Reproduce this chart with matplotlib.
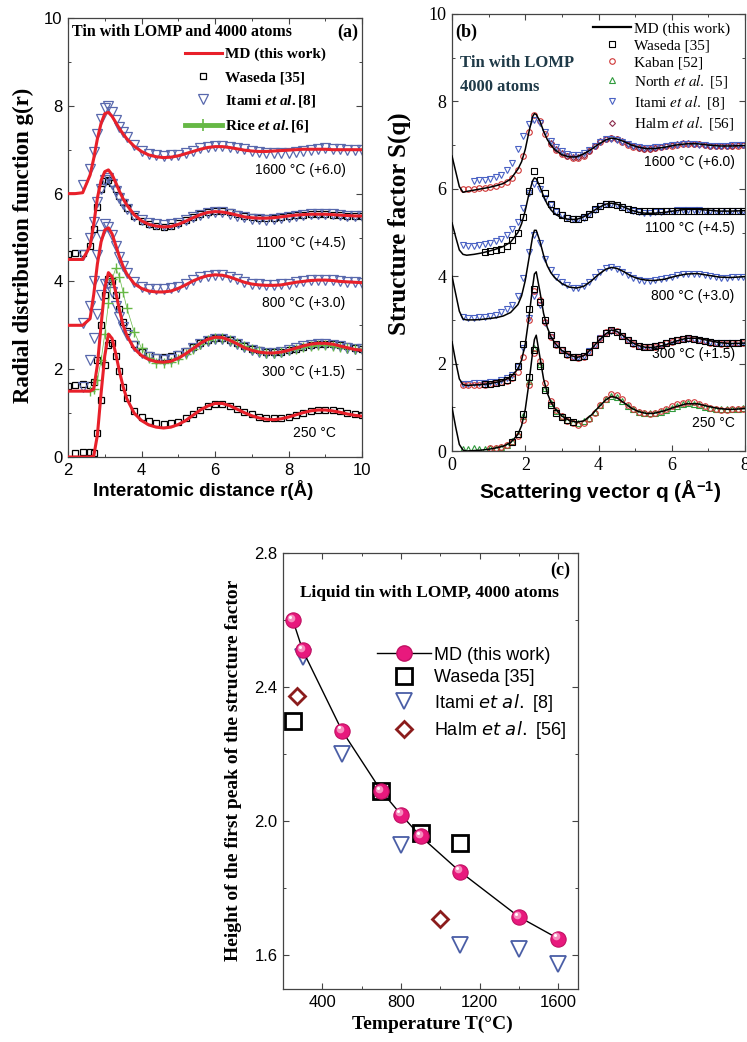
import numpy as np
import matplotlib
matplotlib.use("Agg")
import matplotlib.pyplot as plt
from matplotlib.lines import Line2D
from matplotlib.font_manager import FontProperties
from matplotlib.transforms import offset_copy

nan = np.nan
SERIF = 'Liberation Serif'
SANS = 'Liberation Sans'

plt.rcParams['mathtext.fontset'] = 'custom'
plt.rcParams['mathtext.rm'] = 'Liberation Serif:bold'
plt.rcParams['mathtext.it'] = 'Liberation Serif:italic:bold'
plt.rcParams['mathtext.bf'] = 'Liberation Sans:bold'

# ---------------- panel (a): g(r) ----------------
R = [2.0, 2.2, 2.4, 2.6,
     2.7, 2.8, 2.9, 3.0, 3.1, 3.2, 3.3, 3.4, 3.5, 3.6,
     3.8, 4.0, 4.2, 4.4, 4.6, 4.8, 5.0, 5.2, 5.4, 5.6,
     5.8, 6.0, 6.2, 6.4, 6.6, 6.8, 7.0, 7.2, 7.4, 7.6,
     7.8, 8.0, 8.2, 8.4, 8.6, 8.8, 9.0, 9.2, 9.4, 9.6,
     9.8, 10.0]
TEMP_LABELS = ['250 °C', '300 °C (+1.5)', '800 °C (+3.0)', '1100 °C (+4.5)', '1600 °C (+6.0)']
OFFSETS = [0.0, 1.5, 3.0, 4.5, 6.0]

MD_A_250 = [0, 0, 0, 0,
            0.02, 0.5, 1.45, 2.3, 2.8, 2.7, 2.35, 1.95, 1.6, 1.33,
            1.0, 0.83, 0.73, 0.68, 0.66, 0.68, 0.74, 0.83, 0.95, 1.07,
            1.16, 1.22, 1.22, 1.17, 1.09, 1.01, 0.94, 0.89, 0.86, 0.85,
            0.87, 0.91, 0.96, 1.01, 1.05, 1.07, 1.07, 1.05, 1.02, 0.98,
            0.95, 0.93]
MD_A_300 = [0, 0, 0, 0,
            0.05, 0.6, 1.5, 2.35, 2.7, 2.6, 2.25, 1.85, 1.5, 1.27,
            0.97, 0.81, 0.72, 0.67, 0.66, 0.68, 0.75, 0.85, 0.97, 1.09,
            1.18, 1.23, 1.22, 1.16, 1.08, 0.99, 0.93, 0.89, 0.87, 0.87,
            0.89, 0.93, 0.98, 1.03, 1.07, 1.09, 1.09, 1.07, 1.03, 0.99,
            0.95, 0.93]
MD_A_800 = [0, 0, 0, 0.15,
            0.7, 1.4, 1.9, 2.17, 2.22, 2.08, 1.82, 1.56, 1.34, 1.17,
            0.95, 0.84, 0.78, 0.76, 0.76, 0.78, 0.84, 0.92, 1.01, 1.08,
            1.13, 1.15, 1.14, 1.1, 1.04, 0.98, 0.94, 0.92, 0.91, 0.91,
            0.92, 0.95, 0.98, 1.0, 1.02, 1.03, 1.03, 1.02, 1.0, 0.99,
            0.98, 0.97]
MD_A_1100 = [0, 0, 0, 0.3,
             0.8, 1.4, 1.8, 2.0, 2.04, 1.93, 1.75, 1.55, 1.38, 1.24,
             1.02, 0.88, 0.8, 0.76, 0.74, 0.75, 0.8, 0.87, 0.95, 1.02,
             1.07, 1.09, 1.08, 1.05, 1.01, 0.97, 0.95, 0.94, 0.94, 0.95,
             0.97, 0.99, 1.01, 1.02, 1.03, 1.03, 1.03, 1.02, 1.01, 1.0,
             0.99, 0.99]
MD_A_1600 = [0, 0, 0.02, 0.42,
             0.8, 1.25, 1.6, 1.82, 1.85, 1.76, 1.62, 1.48, 1.36, 1.25,
             1.08, 0.96, 0.88, 0.84, 0.82, 0.83, 0.86, 0.91, 0.96, 1.01,
             1.05, 1.07, 1.07, 1.05, 1.02, 0.99, 0.97, 0.96, 0.96, 0.97,
             0.98, 0.99, 1.0, 1.01, 1.01, 1.01, 1.01, 1.0, 1.0, 1.0,
             1.0, 1.0]

WAS_A_250 = [nan, 0.08, 0.12, 0.12,
             0.1, 0.55, 1.3, 2.1, 2.55, 2.6, 2.3, 1.95, 1.6, 1.35,
             1.05, 0.9, 0.82, 0.78, 0.76, 0.77, 0.8, 0.88, 0.98, 1.08,
             1.16, 1.2, 1.2, 1.16, 1.1, 1.03, 0.97, 0.92, 0.89, 0.88,
             0.89, 0.92, 0.96, 1.0, 1.04, 1.06, 1.07, 1.06, 1.04, 1.01,
             0.98, 0.96]
WAS_A_300 = [0.12, 0.15, 0.17, 0.15,
             0.2, 0.7, 1.5, 2.2, 2.55, 2.5, 2.2, 1.88, 1.58, 1.36,
             1.07, 0.9, 0.82, 0.78, 0.77, 0.79, 0.84, 0.92, 1.01, 1.1,
             1.16, 1.2, 1.2, 1.16, 1.1, 1.03, 0.97, 0.93, 0.9, 0.89,
             0.9, 0.93, 0.97, 1.01, 1.05, 1.07, 1.08, 1.07, 1.05, 1.02,
             0.99, 0.97]
ITA_A_300 = [nan, nan, 0.1, 0.7,
             1.2, 1.75, 2.2, 2.45, 2.45, 2.25, 1.95, 1.68, 1.45, 1.27,
             1.02, 0.86, 0.77, 0.73, 0.72, 0.74, 0.8, 0.88, 0.98, 1.07,
             1.14, 1.18, 1.18, 1.14, 1.07, 1.0, 0.94, 0.9, 0.88, 0.88,
             0.9, 0.94, 0.98, 1.02, 1.05, 1.07, 1.07, 1.05, 1.02, 0.99,
             0.97, 0.95]
RICE_A_300 = [nan, nan, nan, 0.0,
              0.05, 0.25, 0.7, 1.3, 2.0, 2.55, 2.8, 2.6, 2.25, 1.9,
              1.35, 0.98, 0.75, 0.65, 0.64, 0.67, 0.74, 0.84, 0.96, 1.08,
              1.16, 1.2, 1.21, 1.17, 1.1, 1.02, 0.95, 0.91, 0.88, 0.88,
              0.9, 0.93, 0.97, 1.0, 1.03, 1.04, 1.04, 1.03, 1.01, 0.99,
              0.97, 0.96]
ITA_A_800 = [nan, nan, 0.05, 0.45,
             1.0, 1.6, 2.05, 2.3, 2.25, 2.05, 1.8, 1.56, 1.36, 1.2,
             0.99, 0.88, 0.83, 0.82, 0.82, 0.84, 0.88, 0.95, 1.03, 1.09,
             1.13, 1.15, 1.14, 1.1, 1.05, 0.99, 0.95, 0.93, 0.92, 0.92,
             0.93, 0.95, 0.98, 1.01, 1.03, 1.04, 1.04, 1.03, 1.01, 0.99,
             0.98, 0.97]
WAS_A_1100 = [0.12, 0.15, 0.15, 0.3,
              0.7, 1.2, 1.6, 1.78, 1.82, 1.75, 1.6, 1.45, 1.3, 1.18,
              1.0, 0.88, 0.8, 0.76, 0.75, 0.77, 0.82, 0.89, 0.97, 1.04,
              1.09, 1.11, 1.1, 1.07, 1.03, 0.99, 0.96, 0.94, 0.94, 0.95,
              0.97, 0.99, 1.01, 1.02, 1.03, 1.03, 1.03, 1.02, 1.01, 1.0,
              1.0, 1.0]
ITA_A_1100 = [nan, nan, 0.1, 0.5,
              0.85, 1.3, 1.6, 1.8, 1.85, 1.72, 1.55, 1.4, 1.27, 1.16,
              1.0, 0.9, 0.83, 0.8, 0.79, 0.8, 0.84, 0.9, 0.96, 1.02,
              1.06, 1.08, 1.07, 1.04, 1.0, 0.96, 0.93, 0.92, 0.91, 0.92,
              0.94, 0.96, 0.99, 1.01, 1.03, 1.04, 1.04, 1.03, 1.02, 1.0,
              0.99, 0.98]
ITA_A_1600 = [nan, nan, 0.2, 0.55,
              0.95, 1.35, 1.7, 1.95, 2.0, 1.85, 1.68, 1.52, 1.4, 1.28,
              1.1, 0.98, 0.9, 0.87, 0.86, 0.87, 0.89, 0.93, 0.98, 1.03,
              1.06, 1.08, 1.08, 1.06, 1.04, 1.01, 0.98, 0.95, 0.93, 0.92,
              0.92, 0.93, 0.95, 0.98, 1.0, 1.02, 1.03, 1.02, 1.01, 1.0,
              0.99, 0.99]

# ---------------- panel (b): S(q) ----------------
Q = [0, 0.1, 0.2, 0.3, 0.4, 0.6, 0.8, 1.0, 1.2, 1.4, 1.6, 1.8,
     1.9, 2.0, 2.1, 2.2, 2.25, 2.3, 2.4, 2.5, 2.6, 2.7, 2.8,
     3.0, 3.2, 3.4, 3.6, 3.8, 4.0, 4.2, 4.35, 4.5, 4.7, 4.9, 5.1, 5.3, 5.5,
     5.8, 6.1, 6.4, 6.7, 7.0, 7.3, 7.6, 8.0]
MD_B_250 = [1.0, 0.55, 0.15, 0.02, 0.0, 0.01, 0.02, 0.04, 0.07, 0.11, 0.19, 0.38,
            0.58, 0.95, 1.55, 2.25, 2.55, 2.65, 2.15, 1.65, 1.33, 1.12, 0.98,
            0.8, 0.7, 0.66, 0.69, 0.82, 1.0, 1.17, 1.25, 1.22, 1.1, 0.98, 0.9, 0.86, 0.86,
            0.92, 1.01, 1.08, 1.08, 1.02, 0.97, 0.95, 0.97]
MD_B_300 = [1.0, 0.55, 0.15, 0.02, 0.0, 0.01, 0.02, 0.04, 0.07, 0.11, 0.19, 0.38,
            0.58, 0.95, 1.55, 2.25, 2.55, 2.6, 2.15, 1.65, 1.33, 1.12, 0.98,
            0.8, 0.7, 0.64, 0.68, 0.83, 1.02, 1.18, 1.27, 1.24, 1.12, 0.99, 0.91, 0.87, 0.87,
            0.92, 1.01, 1.08, 1.08, 1.03, 0.98, 0.96, 0.97]
MD_B_800 = [1.0, 0.6, 0.2, 0.02, 0.0, 0.0, 0.01, 0.03, 0.05, 0.09, 0.17, 0.35,
            0.55, 0.9, 1.4, 1.9, 2.05, 2.05, 1.8, 1.48, 1.24, 1.08, 0.97,
            0.83, 0.75, 0.73, 0.77, 0.89, 1.04, 1.16, 1.2, 1.18, 1.1, 1.0, 0.94, 0.91, 0.9,
            0.93, 1.0, 1.05, 1.06, 1.02, 0.98, 0.97, 0.99]
MD_B_1100 = [0.72, 0.4, 0.1, 0.0, -0.02, 0.0, 0.03, 0.07, 0.12, 0.18, 0.28, 0.5,
             0.7, 1.0, 1.38, 1.68, 1.75, 1.73, 1.55, 1.33, 1.15, 1.02, 0.93,
             0.83, 0.8, 0.8, 0.86, 0.96, 1.07, 1.15, 1.17, 1.15, 1.08, 1.01, 0.96, 0.94, 0.94,
             0.96, 1.0, 1.03, 1.03, 1.01, 0.99, 0.99, 1.0]
MD_B_1600 = [0.75, 0.4, 0.05, -0.08, -0.06, -0.03, 0.0, 0.03, 0.07, 0.12, 0.22, 0.45,
             0.62, 0.9, 1.3, 1.65, 1.72, 1.7, 1.55, 1.32, 1.13, 1.0, 0.9,
             0.78, 0.73, 0.73, 0.8, 0.9, 1.02, 1.12, 1.16, 1.14, 1.08, 1.0, 0.95, 0.92, 0.92,
             0.95, 1.0, 1.03, 1.03, 1.0, 0.98, 0.98, 0.99]

QX = [0.3, 0.45, 0.6, 0.75, 0.9, 1.05, 1.2, 1.35, 1.5, 1.65,
      1.8, 1.95, 2.1, 2.25, 2.4, 2.55, 2.7, 2.85, 3.0, 3.15,
      3.3, 3.45, 3.6, 3.75, 3.9, 4.05, 4.2, 4.35, 4.5, 4.65,
      4.8, 4.95, 5.1, 5.25, 5.4, 5.55, 5.7, 5.85, 6.0, 6.15,
      6.3, 6.45, 6.6, 6.75, 6.9, 7.05, 7.2, 7.35, 7.5, 7.65,
      7.8, 7.95]
NORTH_B_250 = [0.05, 0.05, 0.06, 0.05, 0.05, 0.06, 0.08, 0.1, 0.14, 0.22,
               0.38, 0.8, 1.6, 2.35, 2.0, 1.45, 1.1, 0.92, 0.8, 0.72,
               0.67, 0.65, 0.68, 0.76, 0.9, 1.05, 1.2, 1.27, 1.24, 1.15,
               1.04, 0.95, 0.9, 0.87, 0.86, 0.87, 0.9, 0.94, 0.99, 1.04,
               1.07, 1.09, 1.08, 1.05, 1.01, 0.98, 0.96, 0.95, 0.95, 0.96,
               0.97, 0.98]
KAB_B_250 = [nan, nan, nan, nan, nan, 0.06, 0.08, 0.1, 0.13, 0.2,
             0.35, 0.7, 1.5, 2.25, 2.05, 1.55, 1.15, 0.93, 0.79, 0.69,
             0.63, 0.6, 0.63, 0.73, 0.88, 1.05, 1.2, 1.3, 1.28, 1.18,
             1.06, 0.96, 0.9, 0.86, 0.85, 0.87, 0.91, 0.96, 1.02, 1.07,
             1.1, 1.12, 1.11, 1.07, 1.02, 0.98, 0.95, 0.94, 0.94, 0.95,
             0.96, 0.97]
WAS_B_250 = ([nan] * 9 + [0.2,
             0.4, 0.85, 1.7, 2.3, 1.95, 1.4, 1.05, 0.88, 0.77, 0.7,
             0.66] + [nan] * 31)
KAB_B_300 = [0.0, 0.0, 0.0, 0.01, 0.02, 0.03, 0.05, 0.07, 0.1, 0.16,
             0.3, 0.65, 1.5, 2.15, 1.95, 1.45, 1.12, 0.93, 0.8, 0.7,
             0.64, 0.62, 0.66, 0.76, 0.92, 1.08, 1.22, 1.28, 1.24, 1.14,
             1.03, 0.95, 0.9, 0.88, 0.88, 0.89, 0.92, 0.96, 1.0, 1.04,
             1.07, 1.08, 1.07, 1.04, 1.01, 0.98, 0.96, 0.95, 0.95, 0.96,
             0.97, 0.98]
WAS_B_300 = [nan, nan, nan, nan, 0.03, 0.04, 0.06, 0.08, 0.12, 0.2,
             0.45, 0.95, 1.75, 2.2, 1.9, 1.5, 1.15, 0.95, 0.82, 0.72,
             0.66, 0.64, 0.67, 0.77, 0.92, 1.07, 1.2, 1.26, 1.23, 1.14,
             1.04, 0.96, 0.91, 0.89, 0.89, 0.9, 0.93, 0.97, 1.01, 1.05,
             1.07, 1.08, 1.07, 1.04, 1.01, 0.99, 0.97, 0.96, 0.96, 0.97,
             0.98, 0.99]
ITA_B_300 = [0.04, 0.04, 0.05, 0.05, 0.06, 0.07, 0.09, 0.12, 0.16, 0.24,
             0.42, 0.85, 1.55, 2.05, 1.85, 1.42, 1.1, 0.92, 0.8, 0.71,
             0.66, 0.64, 0.68, 0.78, 0.93, 1.08, 1.2, 1.25, 1.22, 1.13,
             1.03, 0.96, 0.91, 0.89, 0.89, 0.9, 0.93, 0.97, 1.01, 1.04,
             1.06, 1.07, 1.06, 1.04, 1.01, 0.99, 0.97, 0.96, 0.96, 0.97,
             0.98, 0.99]
ITA_B_800 = [0.06, 0.05, 0.05, 0.06, 0.07, 0.09, 0.12, 0.17, 0.25, 0.35,
             0.55, 0.95, 1.55, 1.95, 1.75, 1.4, 1.15, 0.98, 0.87, 0.79,
             0.74, 0.73, 0.77, 0.86, 0.99, 1.1, 1.18, 1.2, 1.17, 1.1,
             1.02, 0.96, 0.92, 0.9, 0.9, 0.91, 0.93, 0.96, 0.99, 1.02,
             1.04, 1.06, 1.06, 1.05, 1.03, 1.0, 0.98, 0.97, 0.97, 0.98,
             0.99, 0.99]
ITA_B_1100 = [0.22, 0.2, 0.2, 0.21, 0.23, 0.26, 0.3, 0.36, 0.45, 0.57,
              0.75, 1.05, 1.4, 1.6, 1.5, 1.3, 1.12, 0.98, 0.89, 0.83,
              0.8, 0.8, 0.84, 0.92, 1.02, 1.1, 1.15, 1.16, 1.14, 1.09,
              1.03, 0.99, 0.96, 0.95, 0.95, 0.96, 0.97, 0.99, 1.0, 1.01,
              1.02, 1.02, 1.02, 1.01, 1.0, 0.99, 0.99, 0.99, 0.99, 1.0,
              1.0, 1.0]
WAS_B_1100 = [nan, nan, nan, nan, 0.05, 0.07, 0.1, 0.13, 0.2, 0.32,
              0.5, 0.85, 1.45, 1.9, 1.7, 1.4, 1.15, 0.99, 0.89, 0.83,
              0.8, 0.8, 0.85, 0.93, 1.03, 1.1, 1.15, 1.16, 1.13, 1.08,
              1.04, 1.01, 1.0, 0.99, 0.99, 0.99, 1.0, 1.0, 1.0, 1.0,
              1.0, 1.0, 1.0, 1.0, 1.0, 1.0, 1.0, 1.0, 1.0, 1.0,
              1.0, 1.0]
KAB_B_1600 = [0.0, 0.0, 0.0, 0.01, 0.02, 0.04, 0.07, 0.1, 0.15, 0.25,
              0.42, 0.75, 1.3, 1.7, 1.55, 1.25, 1.02, 0.88, 0.8, 0.74,
              0.71, 0.71, 0.76, 0.86, 0.98, 1.08, 1.14, 1.16, 1.14, 1.08,
              1.01, 0.96, 0.93, 0.92, 0.92, 0.93, 0.95, 0.97, 0.99, 1.01,
              1.03, 1.03, 1.03, 1.02, 1.0, 0.99, 0.98, 0.98, 0.98, 0.99,
              0.99, 1.0]
ITA_B_1600 = [nan, nan, 0.18, 0.19, 0.2, 0.22, 0.26, 0.32, 0.42, 0.6,
              0.9, 1.2, 1.48, 1.58, 1.5, 1.3, 1.1, 0.95, 0.86, 0.8,
              0.77, 0.77, 0.81, 0.89, 0.99, 1.08, 1.13, 1.14, 1.12, 1.07,
              1.02, 0.98, 0.95, 0.94, 0.94, 0.95, 0.96, 0.98, 1.0, 1.01,
              1.02, 1.02, 1.02, 1.01, 1.0, 0.99, 0.99, 0.99, 0.99, 1.0,
              1.0, 1.0]
HALM_B_1600 = ([nan] * 16 + [1.05, 0.9, 0.81, 0.75,
               0.72, 0.72, 0.77, 0.87, 0.99, 1.09, 1.15, 1.17, 1.15, 1.09,
               1.02, 0.97, 0.94, 0.92, 0.92, 0.93, 0.95, 0.97, 1.0, 1.02,
               1.04, 1.04, 1.03, 1.02, 1.0, 0.99, 0.98, 0.98, 0.98, 0.99,
               1.0, 1.0])

# ---------------- panel (c): first peak height ----------------
T_MD = [250, 300, 500, 700, 800, 900, 1100, 1400, 1600]
H_MD = [2.60, 2.51, 2.27, 2.09, 2.02, 1.955, 1.85, 1.715, 1.65]
T_WAS = [250, 700, 900, 1100]
H_WAS = [2.30, 2.09, 1.965, 1.935]
T_ITA = [300, 500, 800, 1100, 1400, 1600]
H_ITA = [2.49, 2.20, 1.93, 1.63, 1.62, 1.575]
T_HALM = [270, 1000]
H_HALM = [2.375, 1.71]

RED = '#e8202a'
BLUE_A = '#5868ad'
BLUE_B = '#4a62c4'
GREEN_A = '#66b845'
GREEN_B = '#2f9a3c'
KAB_RED = '#cf3535'
HALM_C = '#8a2a4a'
PINK = '#e8197d'

W, H = 747, 1042
fig = plt.figure(figsize=(W / 100, H / 100), dpi=100)


def px_axes(l, t, r, b):
    return fig.add_axes([l / W, 1 - b / H, (r - l) / W, (b - t) / H])


def style(ax, size, family, xt, yt, xm, ym, xl=None, yl=None):
    ax.set_xticks(xt, labels=xl if xl else [str(v) for v in xt], fontfamily=family, fontsize=size)
    ax.set_yticks(yt, labels=yl if yl else [str(v) for v in yt], fontfamily=family, fontsize=size)
    ax.set_xticks(xm, minor=True)
    ax.set_yticks(ym, minor=True)
    ax.tick_params(which='both', direction='in', top=True, right=True, color='#444444', pad=4)
    ax.tick_params(which='major', length=4.5, width=0.8)
    ax.tick_params(which='minor', length=2.5, width=0.7)
    for s in ax.spines.values():
        s.set_linewidth(0.9)
        s.set_color('#444444')


# ===== (a) =====
axa = px_axes(68, 18, 362, 457)
mk = dict(ls='none', mfc='none')
sq_a = dict(marker='s', ms=5, mec='k', mew=0.9, **mk)
tr_a = dict(marker='v', ms=6.5, mec=BLUE_A, mew=0.9, **mk)
axa.plot(R, np.array(WAS_A_250) + OFFSETS[0], **sq_a)
axa.plot(R, np.array(WAS_A_300) + OFFSETS[1], **sq_a)
axa.plot(R, np.array(ITA_A_300) + OFFSETS[1], **tr_a)
axa.plot(R, np.array(RICE_A_300) + OFFSETS[1], ls='-', lw=0.5, color=GREEN_A,
         marker='+', ms=7, mew=1.0)
axa.plot(R, np.array(ITA_A_800) + OFFSETS[2], **tr_a)
axa.plot(R, np.array(WAS_A_1100) + OFFSETS[3], **sq_a)
axa.plot(R, np.array(ITA_A_1100) + OFFSETS[3], **tr_a)
axa.plot(R, np.array(ITA_A_1600) + OFFSETS[4], **tr_a)
for md, off in zip([MD_A_250, MD_A_300, MD_A_800, MD_A_1100, MD_A_1600], OFFSETS):
    axa.plot(R, np.array(md) + off, color=RED, lw=2.2, zorder=5)
axa.set_xlim(2, 10)
axa.set_ylim(0, 10)
style(axa, 12, SANS, [2, 4, 6, 8, 10], [0, 2, 4, 6, 8, 10], [3, 5, 7, 9], [1, 3, 5, 7, 9])

lab_y_a = [0.55, 1.94, 3.5, 4.87, 6.54]
for lab, yy in zip(TEMP_LABELS, lab_y_a):
    axa.text(9.55 if '(' in lab else 9.3, yy, lab, ha='right', va='center',
             fontsize=10, fontfamily=SANS)
axa.text(0.014, 0.968, 'Tin with LOMP and 4000 atoms', transform=axa.transAxes,
         ha='left', va='center', fontsize=11.5, fontfamily=SERIF, fontweight='bold')
axa.text(0.986, 0.968, '(a)', transform=axa.transAxes, ha='right', va='center',
         fontsize=13, fontfamily=SERIF, fontweight='bold')
handles_a = [Line2D([], [], color=RED, lw=2.2),
             Line2D([], [], **sq_a),
             Line2D([], [], **tr_a),
             Line2D([], [], color=GREEN_A, lw=3.5, marker='+', ms=8, mew=1.2)]
labels_a = ['MD (this work)', 'Waseda [35]', r'Itami $et\ al.$[8]', r'Rice $et\ al.$[6]']
axa.legend(handles_a, labels_a, loc='upper left', bbox_to_anchor=(0.398, 0.933),
           frameon=False, borderpad=0, borderaxespad=0, handlelength=2.4,
           handletextpad=0.25, labelspacing=0.6,
           prop=FontProperties(family=SERIF, weight='bold', size=11))
axa.set_ylabel('Radial distribution function g(r)', fontsize=16.5, fontfamily=SERIF,
               fontweight='bold')
axa.yaxis.set_label_coords(-0.115, 0.483)
axa.set_xlabel('Interatomic distance r(Å)', fontsize=13.5, fontfamily=SANS, fontweight='bold')
axa.xaxis.set_label_coords(0.46, -0.052)

# ===== (b) =====
axb = px_axes(452, 14, 745, 451)
ms_b = 4
sq_b = dict(marker='s', ms=ms_b, mec='k', mew=0.8, **mk)
ci_b = dict(marker='o', ms=ms_b, mec=KAB_RED, mew=0.8, **mk)
up_b = dict(marker='^', ms=ms_b + 0.5, mec=GREEN_B, mew=0.8, **mk)
dn_b = dict(marker='v', ms=ms_b + 0.5, mec=BLUE_B, mew=0.8, **mk)
di_b = dict(marker='D', ms=ms_b - 1, mec=HALM_C, mew=0.8, **mk)
axb.plot(QX, np.array(NORTH_B_250) + OFFSETS[0], **up_b)
axb.plot(QX, np.array(KAB_B_250) + OFFSETS[0], **ci_b)
axb.plot(QX, np.array(WAS_B_250) + OFFSETS[0], **sq_b)
axb.plot(QX, np.array(ITA_B_300) + OFFSETS[1], **dn_b)
axb.plot(QX, np.array(KAB_B_300) + OFFSETS[1], **ci_b)
axb.plot(QX, np.array(WAS_B_300) + OFFSETS[1], **sq_b)
axb.plot(QX, np.array(ITA_B_800) + OFFSETS[2], **dn_b)
axb.plot(QX, np.array(ITA_B_1100) + OFFSETS[3], **dn_b)
axb.plot(QX, np.array(WAS_B_1100) + OFFSETS[3], **sq_b)
axb.plot(QX, np.array(KAB_B_1600) + OFFSETS[4], **ci_b)
axb.plot(QX, np.array(HALM_B_1600) + OFFSETS[4], **di_b)
axb.plot(QX, np.array(ITA_B_1600) + OFFSETS[4], **dn_b)
for md, off in zip([MD_B_250, MD_B_300, MD_B_800, MD_B_1100, MD_B_1600], OFFSETS):
    axb.plot(Q, np.array(md) + off, color='k', lw=1.1, zorder=5)
axb.set_xlim(0, 8)
axb.set_ylim(0, 10)
style(axb, 13, SERIF, [0, 2, 4, 6, 8], [0, 2, 4, 6, 8, 10], [1, 3, 5, 7], [1, 3, 5, 7, 9])

lab_y_b = [0.64, 2.22, 3.55, 5.1, 6.61]
for lab, yy in zip(TEMP_LABELS, lab_y_b):
    axb.text(7.72, yy, lab, ha='right', va='center', fontsize=10, fontfamily=SANS)
axb.text(0.01, 0.959, '(b)', transform=axb.transAxes, ha='left', va='center',
         fontsize=13, fontfamily=SERIF, fontweight='bold')
axb.text(0.027, 0.888, 'Tin with LOMP', transform=axb.transAxes, ha='left', va='center',
         fontsize=12, fontfamily=SERIF, fontweight='bold', color='#1f3a48')
axb.text(0.027, 0.833, '4000 atoms', transform=axb.transAxes, ha='left', va='center',
         fontsize=12, fontfamily=SERIF, fontweight='bold', color='#1f3a48')
handles_b = [Line2D([], [], color='k', lw=1.6),
             Line2D([], [], **sq_b), Line2D([], [], **ci_b), Line2D([], [], **up_b),
             Line2D([], [], **dn_b), Line2D([], [], **di_b)]
labels_b = ['MD (this work)', 'Waseda [35]', 'Kaban [52]', r'North $et\ al.$ [5]',
            r'Itami $et\ al.$ [8]', r'Halm $et\ al.$ [56]']
axb.legend(handles_b, labels_b, loc='upper left', bbox_to_anchor=(0.481, 0.982),
           frameon=False, borderpad=0, borderaxespad=0, handlelength=2.5,
           handletextpad=0.2, labelspacing=0.2,
           prop=FontProperties(family=SERIF, size=11, math_fontfamily='stix'))
axb.set_ylabel('Structure factor S(q)', fontsize=18, fontfamily=SERIF, fontweight='bold')
axb.yaxis.set_label_coords(-0.14, 0.52)
axb.set_xlabel(r'Scattering vector q (Å$^{\mathbf{-1}}$)', fontsize=15, fontfamily=SANS,
               fontweight='bold')
axb.xaxis.set_label_coords(0.505, -0.062)

# ===== (c) =====
axc = px_axes(283, 553, 578, 989)
axc.plot(T_WAS, H_WAS, ls='none', marker='s', ms=11, mfc='none', mec='k', mew=2.0, zorder=3)
axc.plot(T_ITA, H_ITA, ls='none', marker='v', ms=11, mfc='none', mec='#4a5ea6', mew=1.3, zorder=3)
axc.plot(T_HALM, H_HALM, ls='none', marker='D', ms=8.5, mfc='none', mec='#8b1c1c', mew=2.0, zorder=3)
axc.plot(T_MD, H_MD, color='k', lw=1.0, marker='o', ms=11, mfc=PINK, mec='#c01062',
         mew=0.8, zorder=4)
hl1 = offset_copy(axc.transData, fig=fig, x=-1.5, y=1.6, units='points')
hl2 = offset_copy(axc.transData, fig=fig, x=-2.2, y=2.4, units='points')
axc.plot(T_MD, H_MD, ls='none', marker='o', ms=5.5, mfc='#f58cbd', mec='none',
         transform=hl1, zorder=5)
axc.plot(T_MD, H_MD, ls='none', marker='o', ms=2.2, mfc='white', mec='none',
         transform=hl2, zorder=6)
axc.set_xlim(200, 1700)
axc.set_ylim(1.5, 2.8)
style(axc, 12, SANS, [400, 800, 1200, 1600], [1.6, 2.0, 2.4, 2.8], [600, 1000, 1400],
      [1.8, 2.2, 2.6], yl=['1.6', '2.0', '2.4', '2.8'])
axc.text(0.495, 0.908, 'Liquid tin with LOMP, 4000 atoms', transform=axc.transAxes,
         ha='center', va='center', fontsize=12.5, fontfamily=SERIF, fontweight='bold')
axc.text(0.973, 0.961, '(c)', transform=axc.transAxes, ha='right', va='center',
         fontsize=13, fontfamily=SERIF, fontweight='bold')
handles_c = [Line2D([], [], color='k', lw=1.0, marker='o', ms=11, mfc=PINK, mec='#c01062'),
             Line2D([], [], ls='none', marker='s', ms=11, mfc='none', mec='k', mew=2.0),
             Line2D([], [], ls='none', marker='v', ms=11, mfc='none', mec='#4a5ea6', mew=1.3),
             Line2D([], [], ls='none', marker='D', ms=8.5, mfc='none', mec='#8b1c1c', mew=2.0)]
labels_c = ['MD (this work)', 'Waseda [35]', r'Itami $et\ al.$ [8]', r'Halm $et\ al.$ [56]']
axc.legend(handles_c, labels_c, loc='upper left', bbox_to_anchor=(0.319, 0.785),
           frameon=False, borderpad=0, borderaxespad=0, handlelength=3.0,
           handletextpad=0.15, labelspacing=0.3,
           prop=FontProperties(family=SANS, size=13, math_fontfamily='dejavusans'))
axc.set_ylabel('Height of the first peak of the structure factor', fontsize=14,
               fontfamily=SERIF, fontweight='bold')
axc.yaxis.set_label_coords(-0.14, 0.502)
axc.set_xlabel('Temperature T(°C)', fontsize=14, fontfamily=SERIF, fontweight='bold')
axc.xaxis.set_label_coords(0.505, -0.062)

fig.savefig('out.png', dpi=100)
